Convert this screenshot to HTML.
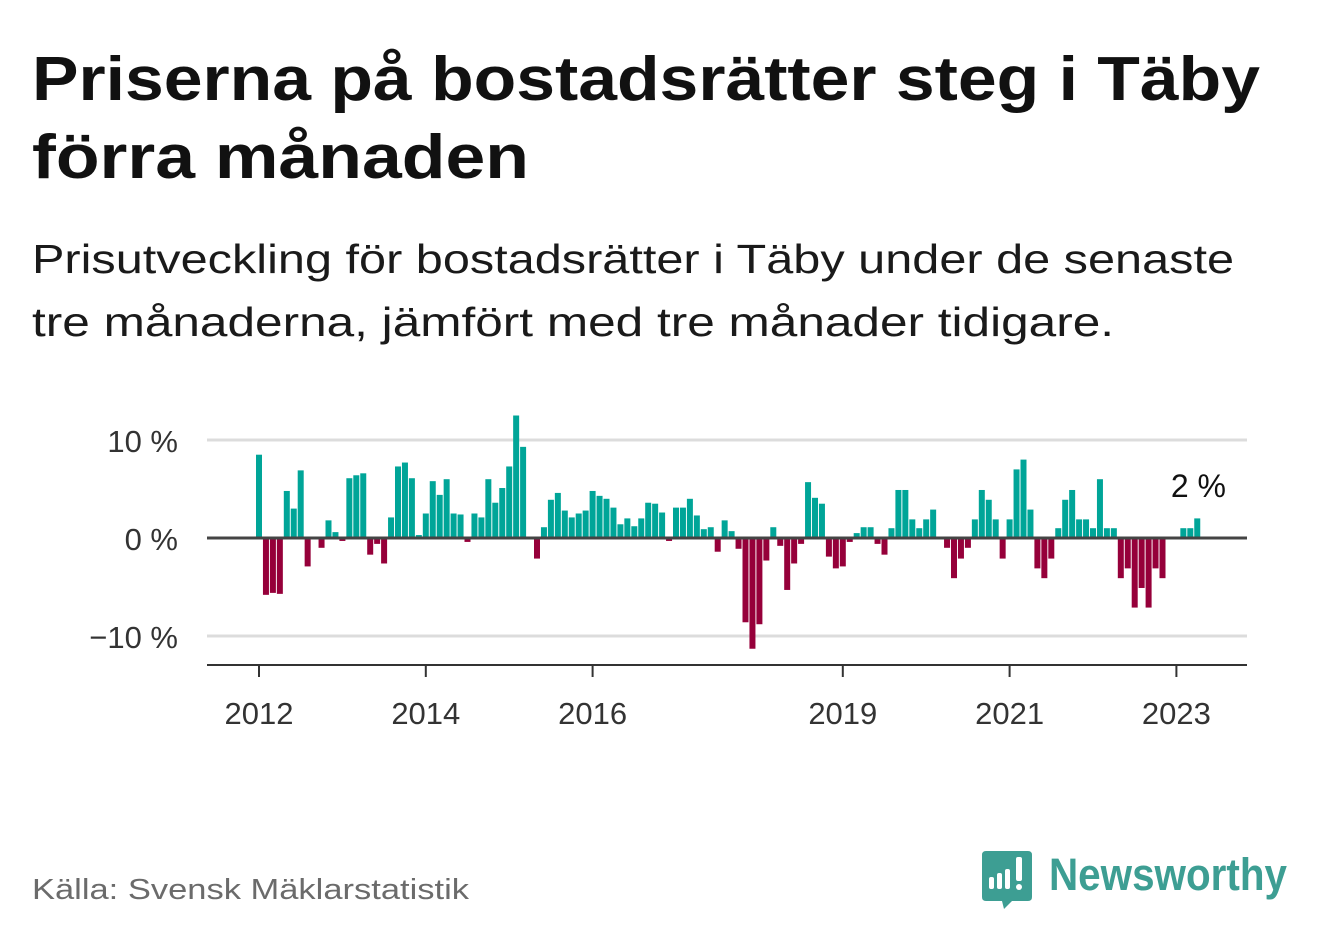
<!DOCTYPE html>
<html><head><meta charset="utf-8">
<style>
html,body{margin:0;padding:0;background:#fff;}
svg{display:block;font-family:"Liberation Sans",sans-serif;}
</style></head>
<body>
<svg id="chart" width="1322" height="939" viewBox="0 0 1322 939">
  <text x="32" y="100" font-size="62" font-weight="bold" fill="#111" textLength="1228" lengthAdjust="spacingAndGlyphs">Priserna på bostadsrätter steg i Täby</text>
  <text x="32" y="178" font-size="62" font-weight="bold" fill="#111" textLength="497" lengthAdjust="spacingAndGlyphs">förra månaden</text>
  <text x="32" y="273" font-size="41" fill="#1a1a1a" textLength="1202" lengthAdjust="spacingAndGlyphs">Prisutveckling för bostadsrätter i Täby under de senaste</text>
  <text x="32" y="336" font-size="41" fill="#1a1a1a" textLength="1082" lengthAdjust="spacingAndGlyphs">tre månaderna, jämfört med tre månader tidigare.</text>
  <g id="grid"></g>
  <g id="bars"></g>
  <g id="axes"></g>
  <text x="1226" y="497" font-size="32" fill="#111" text-anchor="end">2 %</text>
  <text x="32" y="899" font-size="29" fill="#6b6b6b" textLength="437" lengthAdjust="spacingAndGlyphs">Källa: Svensk Mäklarstatistik</text>
  <g>
    <path d="M986 851 H1028 Q1032 851 1032 855 V897 Q1032 901 1028 901 H1012 L1004 909 L1002 901 H986 Q982 901 982 897 V855 Q982 851 986 851 Z" fill="#3d9e93"/>
    <rect x="989" y="877" width="5" height="12" rx="2" fill="#fff"/>
    <rect x="997" y="873" width="5" height="16" rx="2" fill="#fff"/>
    <rect x="1005" y="869" width="5" height="20" rx="2" fill="#fff"/>
    <rect x="1016" y="857" width="6" height="24" rx="2" fill="#fff"/>
    <circle cx="1019" cy="887" r="3" fill="#fff"/>
    <text x="1049" y="890" font-size="45" font-weight="bold" fill="#3d9e93" textLength="238" lengthAdjust="spacingAndGlyphs">Newsworthy</text>
  </g>
</svg>
<script>
const values = [8.5,-5.8,-5.6,-5.7,4.8,3.0,6.9,-2.9,0,-1.0,1.8,0.6,
-0.3,6.1,6.4,6.6,-1.7,-0.6,-2.6,2.1,7.3,7.7,6.1,0.3,
2.5,5.8,4.4,6.0,2.5,2.4,-0.4,2.5,2.1,6.0,3.6,5.1,
7.3,12.5,9.3,0,-2.1,1.1,3.9,4.6,2.8,2.1,2.5,2.8,
4.8,4.3,4.0,3.1,1.4,2.0,1.2,2.0,3.6,3.5,2.6,-0.3,
3.1,3.1,4.0,2.3,0.9,1.1,-1.4,1.8,0.7,-1.1,-8.6,-11.3,
-8.8,-2.3,1.1,-0.8,-5.3,-2.6,-0.6,5.7,4.1,3.5,-1.9,-3.1,
-2.9,-0.4,0.5,1.1,1.1,-0.6,-1.7,1.0,4.9,4.9,1.9,1.0,
1.9,2.9,0,-1.0,-4.1,-2.1,-1.0,1.9,4.9,3.9,1.9,-2.1,
1.9,7.0,8.0,2.9,-3.1,-4.1,-2.1,1.0,3.9,4.9,1.9,1.9,
1.0,6.0,1.0,1.0,-4.1,-3.1,-7.1,-5.1,-7.1,-3.1,-4.1,0,
0,1.0,1.0,2.0];
const startYear = 2012;
const yTicks = [10,0,-10];
const yTickLabels = ["10 %","0 %","\u221210 %"];
const xTickYears = [2012,2014,2016,2019,2021,2023];

const NS="http://www.w3.org/2000/svg";
const x = i => 259 + i*6.95;
const y = v => 538 - v*9.8;
const grid=document.getElementById('grid'), bars=document.getElementById('bars'), axes=document.getElementById('axes');
function mk(tag, attrs, parent){const e=document.createElementNS(NS,tag);for(const k in attrs)e.setAttribute(k,attrs[k]);parent.appendChild(e);return e;}

yTicks.forEach((t,k)=>{
  if(t!==0){
    const l=mk('line',{x1:207,x2:1247,y1:y(t),y2:y(t),stroke:'#dcdcdc','stroke-width':3},grid);
    
    
  }
  const tx=mk('text',{x:178,y:y(t)+12,'font-size':31,fill:'#333','text-anchor':'end'},axes);
  tx.textContent=yTickLabels[k];
  
  
});

values.forEach((v,i)=>{
  if(v===0) return;
  const top=Math.min(y(v),y(0)), h=Math.abs(y(v)-y(0));
  const r=mk('rect',{x:x(i)-3,y:top,width:6,height:h,fill:v>0?'#00a598':'#96003a'},bars);
  
  
});

const z=mk('line',{x1:207,x2:1247,y1:y(0),y2:y(0),stroke:'#444','stroke-width':3},axes);


const ax=mk('line',{x1:207,x2:1247,y1:665,y2:665,stroke:'#333','stroke-width':2},axes);


xTickYears.forEach(yr=>{
  const px=x((yr-startYear)*12);
  const tk=mk('line',{x1:px,x2:px,y1:665,y2:677,stroke:'#333','stroke-width':2},axes);
  
  
  const tx=mk('text',{x:px,y:724,'font-size':31,fill:'#333','text-anchor':'middle'},axes);
  tx.textContent=String(yr);
  
  
});
</script>
</body></html>
